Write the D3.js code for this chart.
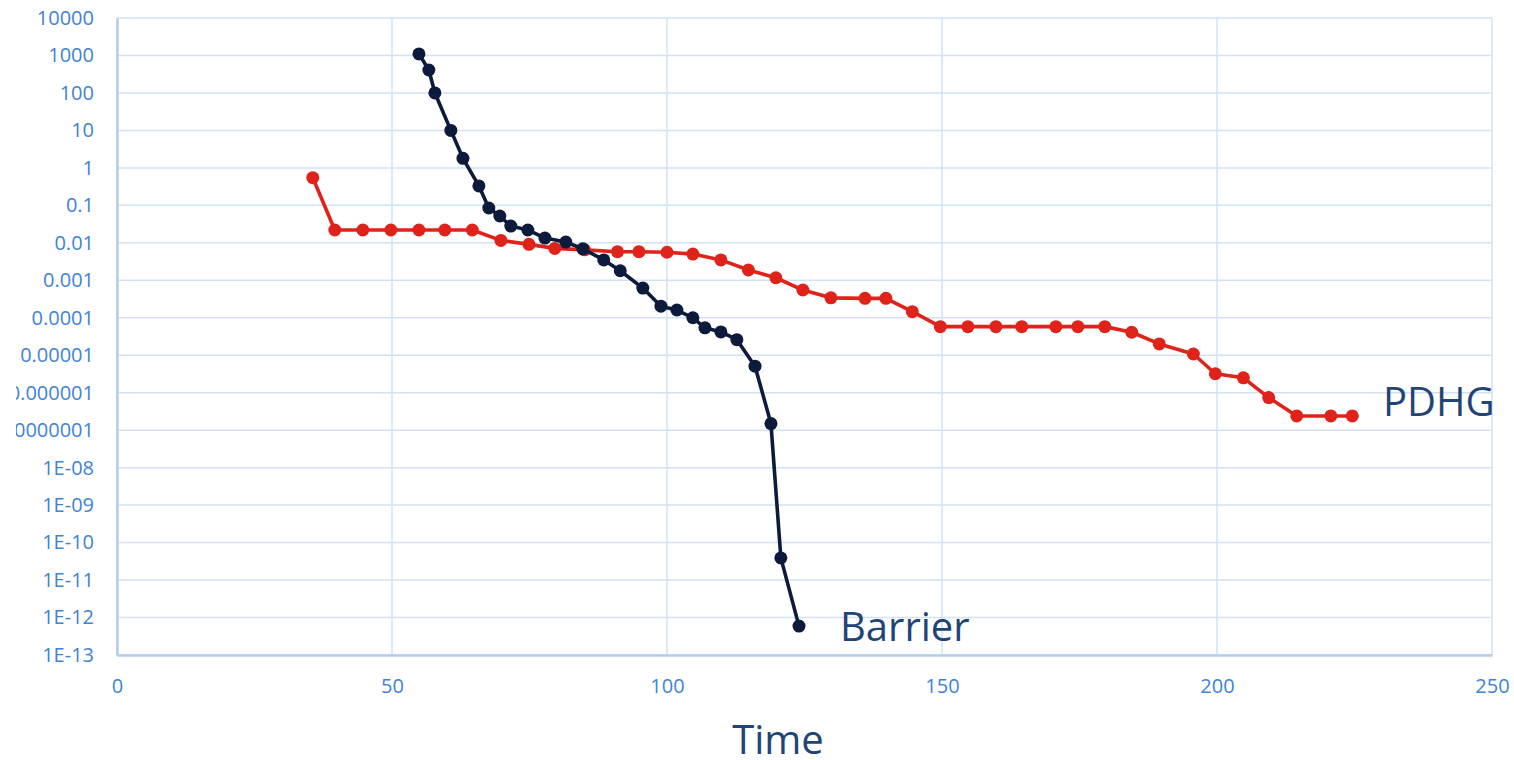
<!DOCTYPE html>
<html>
<head>
<meta charset="utf-8">
<script src="https://cdn.jsdelivr.net/npm/d3@7"></script>
<style>
  body { margin: 0; background: #fff; }
  text { font-family: "Open Sans", sans-serif; }
</style>
</head>
<body>
<div id="chart"></div>
<script>
var w = 1514;
var h = 760;

// Barrier run: time vs. residual
var barrierTime = [54.9, 56.7, 57.8, 60.7, 62.9, 65.8, 67.6, 69.6, 71.6, 74.7, 77.8, 81.6, 84.7,
                   88.5, 91.5, 95.6, 98.9, 101.8, 104.7, 106.9, 109.8, 112.7, 116.0, 118.9, 120.7, 124.0];
var barrierValue = [1100, 410, 100, 10, 1.8, 0.33, 0.085, 0.052, 0.028, 0.022, 0.0134, 0.0105, 0.0069,
                    0.0035, 0.0018, 0.00062, 0.000204, 0.000161, 0.0001, 5.4e-5, 4.2e-5, 2.6e-5, 5.1e-6,
                    1.5e-7, 3.9e-11, 5.9e-13];

// PDHG run
var pdhgTime = [35.6, 39.6, 44.7, 49.8, 54.9, 59.6, 64.6, 69.8, 74.9, 79.6, 85.0, 91.0, 94.9, 100.0,
                104.7, 109.8, 114.8, 119.8, 124.7, 129.8, 136.0, 139.8, 144.6, 149.7, 154.7, 159.8,
                164.5, 170.7, 174.7, 179.6, 184.5, 189.5, 195.7, 199.7, 204.8, 209.4, 214.5, 220.7, 224.6];
var pdhgValue = [0.547, 0.022, 0.022, 0.022, 0.022, 0.022, 0.022, 0.0116, 0.0091, 0.0071, 0.0065,
                 0.0058, 0.0058, 0.0056, 0.0050, 0.0035, 0.00188, 0.00117, 0.00055, 0.00034, 0.00033,
                 0.00033, 0.000145, 5.8e-5, 5.8e-5, 5.8e-5, 5.8e-5, 5.8e-5, 5.8e-5, 5.8e-5, 4.1e-5,
                 2.0e-5, 1.08e-5, 3.2e-6, 2.5e-6, 7.4e-7, 2.4e-7, 2.4e-7, 2.4e-7];

var xTicks = [0, 50, 100, 150, 200, 250];
var yTicks = [1e4, 1e3, 1e2, 1e1, 1, 1e-1, 1e-2, 1e-3, 1e-4, 1e-5, 1e-6, 1e-7, 1e-8, 1e-9, 1e-10, 1e-11, 1e-12, 1e-13];
var yTickLabels = ["10000", "1000", "100", "10", "1", "0.1", "0.01", "0.001", "0.0001", "0.00001",
                   "0.000001", "0.0000001", "1E-08", "1E-09", "1E-10", "1E-11", "1E-12", "1E-13"];

var plotL = 117, plotR = 1492, plotT = 18, plotB = 655;

var svg = d3.select("#chart")
            .append("svg")
            .attr("width", w)
            .attr("height", h);

// Excel clips the long tick labels at the chart edge
svg.append("clipPath").attr("id", "edge")
   .append("rect").attr("x", 16).attr("y", 0).attr("width", w).attr("height", h);

var xScale = d3.scaleLinear().domain([0, 250]).range([plotL, plotR]);
var yScale = d3.scaleLog().domain([1e-13, 1e4]).range([plotB, plotT]);

// gridlines
var grid = svg.append("g").attr("stroke", "#d2e2f4").attr("stroke-width", 1.5);
grid.selectAll(".gy").data(yTicks).enter().append("line")
    .attr("x1", plotL).attr("x2", plotR)
    .attr("y1", function(d) { return yScale(d); })
    .attr("y2", function(d) { return yScale(d); });
grid.selectAll(".gx").data(xTicks).enter().append("line")
    .attr("y1", plotT).attr("y2", plotB)
    .attr("x1", function(d) { return xScale(d); })
    .attr("x2", function(d) { return xScale(d); });

// axes
var xAxis = d3.axisBottom(xScale).tickValues(xTicks).tickSize(0).tickPadding(24);
var gx = svg.append("g").attr("transform", "translate(0," + plotB + ")").call(xAxis);
gx.select(".domain").attr("stroke", "#b3cdeb").attr("stroke-width", 2.5);
gx.selectAll("text").attr("fill", "#3f83d6").style("font-size", "20px");

var yAxis = d3.axisLeft(yScale).tickValues(yTicks).tickSize(0).tickPadding(23)
              .tickFormat(function(d, i) { return yTickLabels[i]; });
var gy = svg.append("g").attr("clip-path", "url(#edge)")
            .append("g").attr("transform", "translate(" + plotL + ",0)").call(yAxis);
gy.select(".domain").attr("stroke", "#b3cdeb").attr("stroke-width", 2.5);
gy.selectAll("text").attr("fill", "#3f83d6").style("font-size", "20px");

// series
var series = [
  { name: "PDHG", time: pdhgTime, value: pdhgValue, color: "#e0231a" },
  { name: "Barrier", time: barrierTime, value: barrierValue, color: "#0c1a3b" }
];

var line = d3.line()
    .x(function(d) { return xScale(d[0]); })
    .y(function(d) { return yScale(d[1]); });

series.forEach(function(s) {
  var pts = d3.zip(s.time, s.value);
  svg.append("path")
     .datum(pts)
     .attr("fill", "none")
     .attr("stroke", s.color)
     .attr("stroke-width", 3.6)
     .attr("stroke-linejoin", "round")
     .attr("d", line);
  svg.append("g").selectAll("circle")
     .data(pts)
     .enter()
     .append("circle")
     .attr("cx", function(d) { return xScale(d[0]); })
     .attr("cy", function(d) { return yScale(d[1]); })
     .attr("r", 6.5)
     .attr("fill", s.color);
});

// series labels
svg.append("text")
   .attr("x", 840).attr("y", 641)
   .attr("fill", "#1f4577")
   .style("font-size", "40px")
   .text("Barrier");
svg.append("text")
   .attr("x", 1383).attr("y", 416)
   .attr("fill", "#1f4577")
   .style("font-size", "40px")
   .text("PDHG");

// axis title
svg.append("text")
   .attr("x", 778).attr("y", 754)
   .attr("text-anchor", "middle")
   .attr("fill", "#1f4577")
   .style("font-size", "40px")
   .text("Time");
</script>
</body>
</html>
